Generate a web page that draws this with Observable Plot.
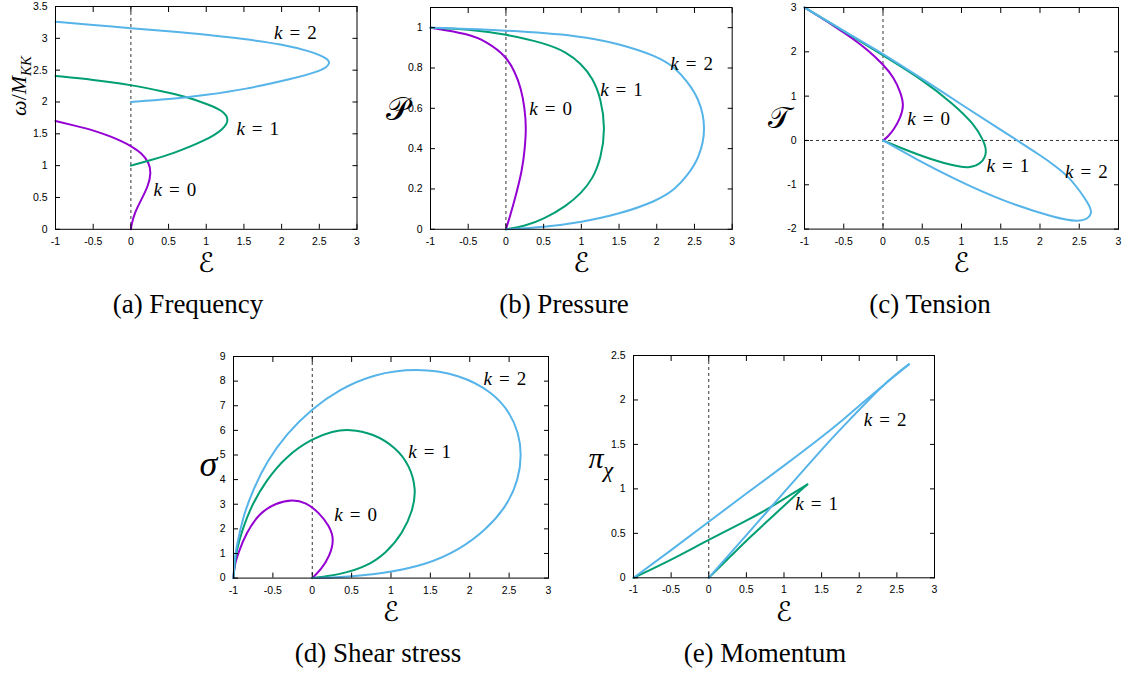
<!DOCTYPE html>
<html><head><meta charset="utf-8">
<script src="https://cdn.jsdelivr.net/npm/d3@7"></script>
<script src="https://cdn.jsdelivr.net/npm/@observablehq/plot@0.6"></script>
<style>
html,body{margin:0;padding:0;background:#fff;}
body{width:1131px;height:677px;position:relative;overflow:hidden;}
.panel{position:absolute;}
.cap{position:absolute;font-family:"Liberation Serif","Times New Roman",serif;font-size:27px;line-height:27px;white-space:nowrap;transform:translateX(-50%);color:#000;}
</style></head>
<body>
<script>
// ---------- data ----------
const xTicks = [-1, -0.5, 0, 0.5, 1, 1.5, 2, 2.5, 3];
const freqTicks = [0, 0.5, 1, 1.5, 2, 2.5, 3, 3.5];
const pressTicks = [0, 0.2, 0.4, 0.6, 0.8, 1];
const tensTicks = [-2, -1, 0, 1, 2, 3];
const shearTicks = [0, 1, 2, 3, 4, 5, 6, 7, 8, 9];
const momTicks = [0, 0.5, 1, 1.5, 2, 2.5];

const kNames = ["k = 0", "k = 1", "k = 2"];
const kColors = ["#9400d3", "#009e73", "#56b4e9"];

// (a) Frequency: [E, omega/M_KK]
const freq_k0 = [[-1,1.70],[-0.75,1.63],[-0.48,1.55],[-0.25,1.45],[-0.12,1.38],[0,1.31],[0.14,1.20],[0.24,1.05],[0.27,0.89],[0.23,0.68],[0.14,0.47],[0.05,0.26],[0.01,0.08],[0,0]];
const freq_k1 = [[-1,2.41],[-0.5,2.35],[0,2.27],[0.45,2.16],[0.74,2.08],[1.03,1.96],[1.21,1.87],[1.31,1.73],[1.23,1.57],[1.0,1.40],[0.54,1.18],[0.25,1.08],[0,1.0]];
const freq_k2 = [[-1,3.26],[-0.5,3.21],[0,3.16],[0.5,3.11],[1.0,3.06],[1.5,2.99],[2.0,2.91],[2.4,2.79],[2.58,2.70],[2.66,2.62],[2.55,2.49],[2.09,2.35],[1.52,2.20],[1.0,2.11],[0.5,2.04],[0,2.0]];
const freqLabelX = [0.30, 1.40, 1.90];
const freqLabelY = [0.62, 1.58, 3.09];

// (b) Pressure: [E, P]
const press_k0 = [[-1,1],[-0.5,0.97],[-0.25,0.93],[0,0.86],[0.12,0.78],[0.2,0.7],[0.25,0.6],[0.27,0.5],[0.25,0.4],[0.22,0.3],[0.12,0.15],[0.05,0.06],[0,0]];
const press_k1 = [[-1,1],[-0.5,0.993],[0,0.967],[0.5,0.925],[0.8,0.88],[1.0,0.82],[1.15,0.75],[1.26,0.65],[1.32,0.5],[1.26,0.35],[1.15,0.25],[1.0,0.18],[0.8,0.115],[0.5,0.05],[0.25,0.015],[0,0]];
const press_k2 = [[-1,1],[0,0.987],[1,0.96],[1.5,0.92],[2,0.86],[2.25,0.80],[2.4,0.735],[2.56,0.65],[2.66,0.5],[2.56,0.35],[2.4,0.265],[2.25,0.2],[2,0.14],[1.5,0.075],[1,0.035],[0.5,0.01],[0,0]];
const pressLabelX = [0.31, 1.25, 2.18];
const pressLabelY = [0.595, 0.69, 0.82];

// (c) Tension: [E, T]
const tens_k0 = [[-1,3],[-0.6,2.56],[-0.37,2.28],[-0.18,2.02],[0,1.72],[0.14,1.42],[0.22,1.10],[0.27,0.80],[0.22,0.50],[0.14,0.25],[0.06,0.08],[0,0]];
const tens_k1 = [[-1,3],[-0.5,2.47],[0,1.92],[0.48,1.40],[0.90,0.82],[1.16,0.37],[1.28,0],[1.33,-0.26],[1.26,-0.52],[1.11,-0.62],[0.94,-0.59],[0.60,-0.42],[0.27,-0.2],[0,0]];
const tens_k2 = [[-1,3],[-0.5,2.47],[0,1.96],[0.5,1.39],[1.0,0.81],[1.5,0.24],[1.71,0],[2.0,-0.33],[2.2,-0.58],[2.35,-0.8],[2.47,-1.05],[2.57,-1.3],[2.64,-1.5],[2.66,-1.65],[2.6,-1.78],[2.49,-1.83],[2.22,-1.76],[1.54,-1.38],[0.90,-0.86],[0.44,-0.44],[0,0]];
const tensLabelX = [0.31, 1.32, 2.32];
const tensLabelY = [0.48, -0.57, -0.70];

// (d) Shear stress: [E, sigma]
const shear_k0 = [[-1,0],[-0.99,0.5],[-0.94,1.02],[-0.84,1.83],[-0.67,2.65],[-0.46,3.05],[-0.25,3.2],[-0.08,3.07],[0.09,2.65],[0.22,2.1],[0.28,1.56],[0.22,0.88],[0.11,0.34],[0,0]];
const shear_k1 = [[-1,0],[-0.98,0.8],[-0.94,1.42],[-0.80,2.8],[-0.58,4.0],[-0.33,4.95],[0,5.67],[0.26,5.97],[0.47,6.05],[0.77,5.88],[1.07,5.29],[1.24,4.55],[1.32,3.6],[1.28,2.78],[1.15,1.83],[0.94,1.02],[0.69,0.47],[0.35,0.14],[0,0]];
const shear_k2 = [[-1,0],[-0.99,0.6],[-0.97,1.15],[-0.88,2.51],[-0.75,3.6],[-0.58,4.72],[-0.33,5.85],[0,6.89],[0.35,7.67],[0.77,8.28],[1.32,8.53],[1.87,8.28],[2.30,7.53],[2.51,6.72],[2.62,5.9],[2.66,5.02],[2.62,4.0],[2.47,2.92],[2.21,1.97],[1.87,1.15],[1.45,0.54],[0.90,0.18],[0.39,0.04],[0,0]];
const shearLabelX = [0.28, 1.22, 2.175];
const shearLabelY = [2.57, 5.13, 8.1];

// (e) Momentum: [E, pi_chi]
const mom_k1_up = [[-1,0],[-0.5,0.2],[0,0.43],[0.5,0.64],[0.8,0.78],[1.1,0.94],[1.31,1.05]];
const mom_k1_lo = [[0,0],[0.3,0.25],[0.55,0.46],[0.9,0.73],[1.1,0.89],[1.31,1.05]];
const mom_k2_up = [[-1,0],[-0.5,0.31],[0,0.63],[0.5,0.95],[1,1.26],[1.42,1.53],[1.75,1.75],[2.28,2.14],[2.66,2.40]];
const mom_k2_lo = [[0,0],[0.5,0.48],[1,0.96],[1.6,1.54],[1.9,1.80],[2.28,2.14],[2.5,2.30],[2.66,2.40]];
const momLabelX = [1.15, 2.06];
const momLabelY = [0.83, 1.78];

// ---------- drawing ----------
const FONT_TICK = "Liberation Sans, Arial, sans-serif";
const FONT_MATH = "Liberation Serif, Times New Roman, DejaVu Sans, serif";
const fmt = d => String(d);

function panel(cfg) {
  const [x0, x1, y0, y1] = cfg.frame;
  const mL = 62, mR = 12, mT = 6, mB = 66;
  const width = x1 - x0 + mL + mR, height = y1 - y0 + mT + mB;
  const dash = {stroke: "#333", strokeWidth: 1, strokeDasharray: "3,3"};
  const marks = [Plot.ruleX([0], dash)];
  if (cfg.hZero) marks.push(Plot.ruleY([0], dash));
  for (const c of cfg.curves) {
    marks.push(Plot.line(c.data, {x: d => d[0], y: d => d[1], stroke: c.color, strokeWidth: 2, curve: c.curve || "basis"}));
  }
  marks.push(Plot.frame({stroke: "black", strokeWidth: 1}));
  const none = () => "";
  marks.push(
    Plot.axisX(xTicks, {anchor: "bottom", tickSize: 0, tickPadding: 8, tickFormat: fmt, label: null}),
    Plot.axisX(xTicks, {anchor: "bottom", tickSize: -5, tickFormat: none, label: null}),
    Plot.axisX(xTicks, {anchor: "top", tickSize: -5, tickFormat: none, label: null}),
    Plot.axisY(cfg.yTicks, {anchor: "left", tickSize: 0, tickPadding: 8, tickFormat: fmt, label: null}),
    Plot.axisY(cfg.yTicks, {anchor: "left", tickSize: -5, tickFormat: none, label: null}),
    Plot.axisY(cfg.yTicks, {anchor: "right", tickSize: -5, tickFormat: none, label: null})
  );
  const labs = cfg.labelX.map((x, i) => ({x, y: cfg.labelY[i], t: cfg.labelText[i]}));
  marks.push(Plot.text(labs, {x: "x", y: "y", text: "t", textAnchor: "start", fontFamily: FONT_MATH, fontSize: 19, fill: "black"}));
  marks.push(Plot.text(["ℰ"], {text: d => d, frameAnchor: "bottom", dy: 43, fontFamily: FONT_MATH, fontSize: 27, fill: "black"}));
  marks.push(Plot.text([cfg.ylab.text], {text: d => d, frameAnchor: "left", dx: cfg.ylab.dx, dy: cfg.ylab.dy || 0,
    rotate: cfg.ylab.rotate || 0, fontFamily: FONT_MATH, fontSize: cfg.ylab.size, fill: "black"}));

  const svg = Plot.plot({
    width, height, marginLeft: mL, marginRight: mR, marginTop: mT, marginBottom: mB,
    x: {domain: [-1, 3]}, y: {domain: cfg.yDomain},
    style: {overflow: "visible", background: "transparent", fontFamily: FONT_TICK, fontSize: "10.5px", color: "black"},
    marks
  });
  svg.querySelectorAll("text").forEach(t => {
    const s = t.textContent;
    const m = s.match(/^k = (\d)$/);
    if (m) t.innerHTML = `<tspan font-style="italic">k</tspan><tspan dx="7">=</tspan><tspan dx="7">${m[1]}</tspan>`;
    else if (s === "ω/MKK") t.innerHTML = `<tspan font-style="italic">ω</tspan>/<tspan font-style="italic">M</tspan><tspan font-style="italic" font-size="15" dy="5">KK</tspan>`;
    else if (s === "πχ") t.innerHTML = `<tspan font-style="italic">π</tspan><tspan font-style="italic" font-size="22" dy="9">χ</tspan>`;
    else if (s === "σ") t.setAttribute("font-style", "italic");
  });
  const div = document.createElement("div");
  div.className = "panel";
  div.style.left = (x0 - mL) + "px";
  div.style.top = (y0 - mT) + "px";
  div.style.width = width + "px";
  div.appendChild(svg);
  document.body.appendChild(div);
}

function caption(text, cx, baseline) {
  const d = document.createElement("div");
  d.className = "cap";
  d.textContent = text;
  d.style.left = cx + "px";
  d.style.top = (baseline - 22) + "px";
  document.body.appendChild(d);
}

const curves3 = (a, b, c) => [
  {data: a, color: kColors[0]}, {data: b, color: kColors[1]}, {data: c, color: kColors[2]}
];

panel({frame: [54.5, 356, 5.7, 228.5], yDomain: [0, 3.5], yTicks: freqTicks,
  curves: curves3(freq_k0, freq_k1, freq_k2),
  labelX: freqLabelX, labelY: freqLabelY, labelText: kNames,
  ylab: {text: "ω/MKK", dx: -37, dy: -2, rotate: -90, size: 22}});
panel({frame: [430, 731.7, 6.5, 228.3], yDomain: [0, 1.1], yTicks: pressTicks,
  curves: curves3(press_k0, press_k1, press_k2),
  labelX: pressLabelX, labelY: pressLabelY, labelText: kNames,
  ylab: {text: "𝒫", dx: -45, dy: -9, size: 32}});
panel({frame: [804.3, 1118.3, 6.7, 228.3], yDomain: [-2, 3], yTicks: tensTicks, hZero: true,
  curves: curves3(tens_k0, tens_k1, tens_k2),
  labelX: tensLabelX, labelY: tensLabelY, labelText: kNames,
  ylab: {text: "𝒯", dx: -37, dy: 0, size: 30}});
panel({frame: [233.3, 548.3, 355.7, 577.3], yDomain: [0, 9], yTicks: shearTicks,
  curves: curves3(shear_k0, shear_k1, shear_k2),
  labelX: shearLabelX, labelY: shearLabelY, labelText: kNames,
  ylab: {text: "σ", dx: -34, dy: -3, size: 36}});
panel({frame: [633.3, 934.3, 355, 577.3], yDomain: [0, 2.5], yTicks: momTicks,
  curves: [{data: mom_k1_up, color: kColors[1]}, {data: mom_k1_lo, color: kColors[1]},
           {data: mom_k2_up, color: kColors[2]}, {data: mom_k2_lo, color: kColors[2]}],
  labelX: momLabelX, labelY: momLabelY, labelText: kNames.slice(1),
  ylab: {text: "πχ", dx: -45, dy: -8, size: 30}});

caption("(a) Frequency", 188, 313);
caption("(b) Pressure", 564, 313);
caption("(c) Tension", 930, 313);
caption("(d) Shear stress", 378, 662);
caption("(e) Momentum", 765, 662);
</script>
</body></html>
